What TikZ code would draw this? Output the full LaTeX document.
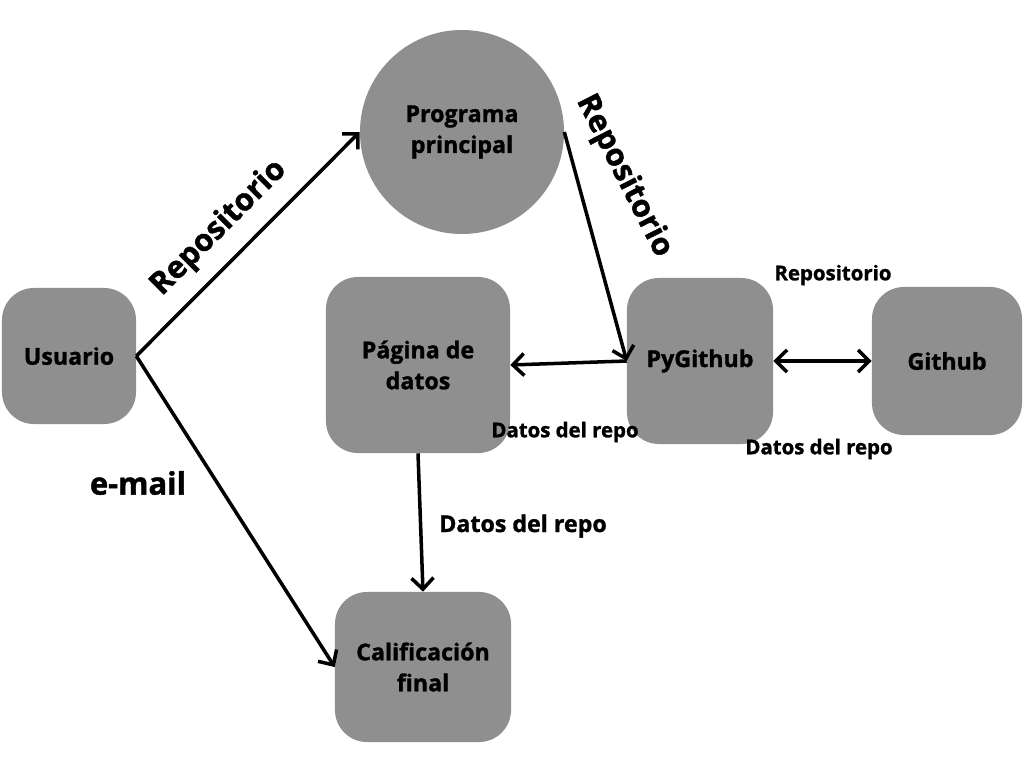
\documentclass[tikz,border=0pt]{standalone}
\usepackage{fontspec}
\setmainfont{Open Sans}[BoldFeatures={FakeBold=1.3}]
\usepackage{tikz}
\usetikzlibrary{arrows.meta, positioning}

\definecolor{caja}{RGB}{143,143,143}

\begin{document}
\begin{tikzpicture}[x=0.025cm, y=-0.025cm,
        bloque/.style={draw=none, fill=caja, rounded corners=0.8cm, align=center,
            font=\bfseries\fontsize{16.5}{22}\selectfont},
        circulo/.style={circle, fill=caja, minimum size=5.1cm, align=center,
            font=\bfseries\fontsize{16.5}{22}\selectfont},
        punta/.tip={Straight Barb[length=2.8mm, width=5.5mm]},
        flecha/.style={line width=2.5pt, -punta},
        grande/.style={font=\bfseries\fontsize{22}{26}\selectfont},
        mediana/.style={font=\bfseries\fontsize{16.5}{19}\selectfont},
        chica/.style={font=\bfseries\fontsize{14.5}{17}\selectfont}]
    \useasboundingbox (0,0) rectangle (1024,768);

    \node[bloque, minimum width=3.35cm, minimum height=3.4cm] (usuario) at (69,356) {Usuario};
    \node[circulo] (programa) at (462,132) {Programa\\principal};
    \node[bloque, minimum width=4.6cm, minimum height=4.4cm] (pagina) at (418,365) {Página de\\datos};
    \node[bloque, minimum width=3.65cm, minimum height=4.15cm] (pygithub) at (700,361) {PyGithub};
    \node[bloque, minimum width=3.75cm, minimum height=3.7cm] (github) at (947,361) {Github};
    \node[bloque, minimum width=4.4cm, minimum height=3.75cm] (calif) at (423,667) {Calificación\\final};

    \draw[flecha] (usuario.east) -- (programa.west);
    \draw[flecha] (usuario.east) -- (calif.west);
    \draw[flecha] (programa.east) -- (pygithub.west);
    \draw[flecha] (pygithub.west) -- (pagina.east);
    \draw[flecha, punta-punta] (pygithub.east) -- (github.west);
    \draw[flecha] (pagina.south) -- (calif.north);

    % etiquetas
    \node[grande, rotate=45] (repo1) at (219,228) {Repositorio};
    \node[grande, rotate=-63] (repo2) at (624,176) {Repositorio};
    \node[grande] (email) at (138,483) {e-mail};
    \node[chica] (repo3) at (833,275) {Repositorio};
    \node[chica] (datos1) at (565,432) {Datos del repo};
    \node[chica] (datos2) at (819,449) {Datos del repo};
    \node[mediana] (datos3) at (523,526) {Datos del repo};
\end{tikzpicture}
\end{document}
